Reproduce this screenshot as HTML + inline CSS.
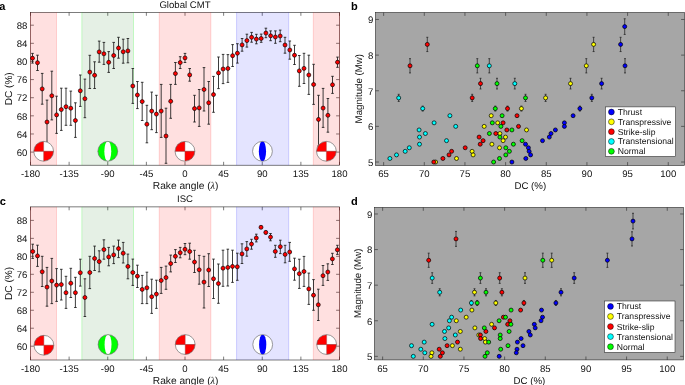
<!DOCTYPE html><html><head><meta charset="utf-8"><style>html,body{margin:0;padding:0;background:#fff;}svg{display:block;font-family:"Liberation Sans", sans-serif;} text{text-rendering:geometricPrecision;}</style></head><body>
<div style="will-change:transform;width:685px;height:385px">
<svg width="685" height="385" viewBox="0 0 685 385">
<rect width="685" height="385" fill="#fff"/>
<defs><clipPath id="bbclip"><circle r="9.9"/></clipPath></defs>
<text x="27.3" y="155.8" text-anchor="end" font-size="9.6" fill="#111111">60</text>
<text x="27.3" y="137.67" text-anchor="end" font-size="9.6" fill="#111111">64</text>
<text x="27.3" y="119.54" text-anchor="end" font-size="9.6" fill="#111111">68</text>
<text x="27.3" y="101.41" text-anchor="end" font-size="9.6" fill="#111111">72</text>
<text x="27.3" y="83.29" text-anchor="end" font-size="9.6" fill="#111111">76</text>
<text x="27.3" y="65.16" text-anchor="end" font-size="9.6" fill="#111111">80</text>
<text x="27.3" y="47.03" text-anchor="end" font-size="9.6" fill="#111111">84</text>
<text x="27.3" y="28.9" text-anchor="end" font-size="9.6" fill="#111111">88</text>
<text x="30.5" y="177" text-anchor="middle" font-size="9.6" fill="#111111">-180</text>
<text x="69.12" y="177" text-anchor="middle" font-size="9.6" fill="#111111">-135</text>
<text x="107.75" y="177" text-anchor="middle" font-size="9.6" fill="#111111">-90</text>
<text x="146.38" y="177" text-anchor="middle" font-size="9.6" fill="#111111">-45</text>
<text x="185" y="177" text-anchor="middle" font-size="9.6" fill="#111111">0</text>
<text x="223.62" y="177" text-anchor="middle" font-size="9.6" fill="#111111">45</text>
<text x="262.25" y="177" text-anchor="middle" font-size="9.6" fill="#111111">90</text>
<text x="300.88" y="177" text-anchor="middle" font-size="9.6" fill="#111111">135</text>
<text x="339.5" y="177" text-anchor="middle" font-size="9.6" fill="#111111">180</text>
<path d="M30.5 152.1h3.4M339.5 152.1h-3.4M30.5 133.97h3.4M339.5 133.97h-3.4M30.5 115.84h3.4M339.5 115.84h-3.4M30.5 97.71h3.4M339.5 97.71h-3.4M30.5 79.59h3.4M339.5 79.59h-3.4M30.5 61.46h3.4M339.5 61.46h-3.4M30.5 43.33h3.4M339.5 43.33h-3.4M30.5 25.2h3.4M339.5 25.2h-3.4M30.5 165.2v-3.4M30.5 12.4v3.4M69.12 165.2v-3.4M69.12 12.4v3.4M107.75 165.2v-3.4M107.75 12.4v3.4M146.38 165.2v-3.4M146.38 12.4v3.4M185 165.2v-3.4M185 12.4v3.4M223.62 165.2v-3.4M223.62 12.4v3.4M262.25 165.2v-3.4M262.25 12.4v3.4M300.88 165.2v-3.4M300.88 12.4v3.4M339.5 165.2v-3.4M339.5 12.4v3.4" stroke="#262626" stroke-width="0.6" fill="none"/>
<rect x="30.5" y="12.4" width="309" height="152.8" fill="none" stroke="#262626" stroke-width="0.6"/>
<rect x="30.5" y="12.4" width="26.01" height="152.8" fill="rgba(255,0,0,0.12)"/>
<rect x="81.83" y="12.4" width="51.67" height="152.8" fill="rgba(0,110,0,0.1)"/>
<rect x="159.25" y="12.4" width="51.59" height="152.8" fill="rgba(255,0,0,0.12)"/>
<rect x="236.59" y="12.4" width="52.1" height="152.8" fill="rgba(0,0,255,0.106)"/>
<rect x="313.32" y="12.4" width="26.18" height="152.8" fill="rgba(255,0,0,0.12)"/>
<line x1="30.5" y1="12.4" x2="30.5" y2="165.2" stroke="rgba(255,0,0,0.15)" stroke-width="1"/>
<line x1="56.51" y1="12.4" x2="56.51" y2="165.2" stroke="rgba(255,0,0,0.15)" stroke-width="1"/>
<line x1="81.83" y1="12.4" x2="81.83" y2="165.2" stroke="rgba(0,255,0,0.2)" stroke-width="1"/>
<line x1="133.5" y1="12.4" x2="133.5" y2="165.2" stroke="rgba(0,255,0,0.2)" stroke-width="1"/>
<line x1="159.25" y1="12.4" x2="159.25" y2="165.2" stroke="rgba(255,0,0,0.15)" stroke-width="1"/>
<line x1="210.84" y1="12.4" x2="210.84" y2="165.2" stroke="rgba(255,0,0,0.15)" stroke-width="1"/>
<line x1="236.59" y1="12.4" x2="236.59" y2="165.2" stroke="rgba(0,0,255,0.17)" stroke-width="1"/>
<line x1="288.69" y1="12.4" x2="288.69" y2="165.2" stroke="rgba(0,0,255,0.17)" stroke-width="1"/>
<line x1="313.32" y1="12.4" x2="313.32" y2="165.2" stroke="rgba(255,0,0,0.15)" stroke-width="1"/>
<line x1="339.5" y1="12.4" x2="339.5" y2="165.2" stroke="rgba(255,0,0,0.15)" stroke-width="1"/>
<path d="M32.5 53.4V63.1M31.2 53.4H33.8M31.2 63.1H33.8" stroke="#1a1a1a" stroke-width="0.85" fill="none"/>
<path d="M37.5 55.2V70.5M36.2 55.2H38.8M36.2 70.5H38.8" stroke="#1a1a1a" stroke-width="0.85" fill="none"/>
<path d="M42.2 73.4V104.2M40.9 73.4H43.5M40.9 104.2H43.5" stroke="#1a1a1a" stroke-width="0.85" fill="none"/>
<path d="M47 100.1V146M45.7 100.1H48.3M45.7 146H48.3" stroke="#1a1a1a" stroke-width="0.85" fill="none"/>
<path d="M51.8 71.2V119.9M50.5 71.2H53.1M50.5 119.9H53.1" stroke="#1a1a1a" stroke-width="0.85" fill="none"/>
<path d="M56.6 96.2V133.4M55.3 96.2H57.9M55.3 133.4H57.9" stroke="#1a1a1a" stroke-width="0.85" fill="none"/>
<path d="M61.3 88.2V130.4M60 88.2H62.6M60 130.4H62.6" stroke="#1a1a1a" stroke-width="0.85" fill="none"/>
<path d="M66 88.2V125.3M64.7 88.2H67.3M64.7 125.3H67.3" stroke="#1a1a1a" stroke-width="0.85" fill="none"/>
<path d="M70.8 91.1V125.3M69.5 91.1H72.1M69.5 125.3H72.1" stroke="#1a1a1a" stroke-width="0.85" fill="none"/>
<path d="M75.4 102.8V137.4M74.1 102.8H76.7M74.1 137.4H76.7" stroke="#1a1a1a" stroke-width="0.85" fill="none"/>
<path d="M80.3 75V106.4M79 75H81.6M79 106.4H81.6" stroke="#1a1a1a" stroke-width="0.85" fill="none"/>
<path d="M84.9 79.1V117.7M83.6 79.1H86.2M83.6 117.7H86.2" stroke="#1a1a1a" stroke-width="0.85" fill="none"/>
<path d="M89.8 55.3V88.5M88.5 55.3H91.1M88.5 88.5H91.1" stroke="#1a1a1a" stroke-width="0.85" fill="none"/>
<path d="M94.6 61.8V88.5M93.3 61.8H95.9M93.3 88.5H95.9" stroke="#1a1a1a" stroke-width="0.85" fill="none"/>
<path d="M99.2 41.1V62.2M97.9 41.1H100.5M97.9 62.2H100.5" stroke="#1a1a1a" stroke-width="0.85" fill="none"/>
<path d="M103.9 42.4V64.4M102.6 42.4H105.2M102.6 64.4H105.2" stroke="#1a1a1a" stroke-width="0.85" fill="none"/>
<path d="M108.7 51.6V72.4M107.4 51.6H110M107.4 72.4H110" stroke="#1a1a1a" stroke-width="0.85" fill="none"/>
<path d="M113.7 42.4V68.5M112.4 42.4H115M112.4 68.5H115" stroke="#1a1a1a" stroke-width="0.85" fill="none"/>
<path d="M118.5 37.3V58.2M117.2 37.3H119.8M117.2 58.2H119.8" stroke="#1a1a1a" stroke-width="0.85" fill="none"/>
<path d="M123.2 39.2V63.2M121.9 39.2H124.5M121.9 63.2H124.5" stroke="#1a1a1a" stroke-width="0.85" fill="none"/>
<path d="M127.9 38.5V62.8M126.6 38.5H129.2M126.6 62.8H129.2" stroke="#1a1a1a" stroke-width="0.85" fill="none"/>
<path d="M132.8 68.5V103.4M131.5 68.5H134.1M131.5 103.4H134.1" stroke="#1a1a1a" stroke-width="0.85" fill="none"/>
<path d="M137.4 81.5V108.6M136.1 81.5H138.7M136.1 108.6H138.7" stroke="#1a1a1a" stroke-width="0.85" fill="none"/>
<path d="M142.2 82.3V120.5M140.9 82.3H143.5M140.9 120.5H143.5" stroke="#1a1a1a" stroke-width="0.85" fill="none"/>
<path d="M146.9 105.3V142.8M145.6 105.3H148.2M145.6 142.8H148.2" stroke="#1a1a1a" stroke-width="0.85" fill="none"/>
<path d="M151.7 92.1V129.7M150.4 92.1H153M150.4 129.7H153" stroke="#1a1a1a" stroke-width="0.85" fill="none"/>
<path d="M156.4 95.3V132.6M155.1 95.3H157.7M155.1 132.6H157.7" stroke="#1a1a1a" stroke-width="0.85" fill="none"/>
<path d="M161.2 84.4V137.4M159.9 84.4H162.5M159.9 137.4H162.5" stroke="#1a1a1a" stroke-width="0.85" fill="none"/>
<path d="M166 108.2V163.3M164.7 108.2H167.3M164.7 163.3H167.3" stroke="#1a1a1a" stroke-width="0.85" fill="none"/>
<path d="M170.7 84.4V118.3M169.4 84.4H172M169.4 118.3H172" stroke="#1a1a1a" stroke-width="0.85" fill="none"/>
<path d="M175.4 62.5V84.4M174.1 62.5H176.7M174.1 84.4H176.7" stroke="#1a1a1a" stroke-width="0.85" fill="none"/>
<path d="M180.2 56.7V68.5M178.9 56.7H181.5M178.9 68.5H181.5" stroke="#1a1a1a" stroke-width="0.85" fill="none"/>
<path d="M185 53.4V62.5M183.7 53.4H186.3M183.7 62.5H186.3" stroke="#1a1a1a" stroke-width="0.85" fill="none"/>
<path d="M189.7 68.5V81.2M188.4 68.5H191M188.4 81.2H191" stroke="#1a1a1a" stroke-width="0.85" fill="none"/>
<path d="M194.5 95.3V122M193.2 95.3H195.8M193.2 122H195.8" stroke="#1a1a1a" stroke-width="0.85" fill="none"/>
<path d="M199.2 89.5V126.4M197.9 89.5H200.5M197.9 126.4H200.5" stroke="#1a1a1a" stroke-width="0.85" fill="none"/>
<path d="M204 67.6V111M202.7 67.6H205.3M202.7 111H205.3" stroke="#1a1a1a" stroke-width="0.85" fill="none"/>
<path d="M208.7 81.5V124.2M207.4 81.5H210M207.4 124.2H210" stroke="#1a1a1a" stroke-width="0.85" fill="none"/>
<path d="M213.5 76.4V112.3M212.2 76.4H214.8M212.2 112.3H214.8" stroke="#1a1a1a" stroke-width="0.85" fill="none"/>
<path d="M218.5 57V88.6M217.2 57H219.8M217.2 88.6H219.8" stroke="#1a1a1a" stroke-width="0.85" fill="none"/>
<path d="M223.1 54.4V83.6M221.8 54.4H224.4M221.8 83.6H224.4" stroke="#1a1a1a" stroke-width="0.85" fill="none"/>
<path d="M227.9 54.6V82.4M226.6 54.6H229.2M226.6 82.4H229.2" stroke="#1a1a1a" stroke-width="0.85" fill="none"/>
<path d="M232.6 44.6V66.5M231.3 44.6H233.9M231.3 66.5H233.9" stroke="#1a1a1a" stroke-width="0.85" fill="none"/>
<path d="M237.4 43.7V63.1M236.1 43.7H238.7M236.1 63.1H238.7" stroke="#1a1a1a" stroke-width="0.85" fill="none"/>
<path d="M242.1 38.5V51.2M240.8 38.5H243.4M240.8 51.2H243.4" stroke="#1a1a1a" stroke-width="0.85" fill="none"/>
<path d="M246.9 34.2V47.1M245.6 34.2H248.2M245.6 47.1H248.2" stroke="#1a1a1a" stroke-width="0.85" fill="none"/>
<path d="M251.6 32.4V42.2M250.3 32.4H252.9M250.3 42.2H252.9" stroke="#1a1a1a" stroke-width="0.85" fill="none"/>
<path d="M256.4 34.3V43.8M255.1 34.3H257.7M255.1 43.8H257.7" stroke="#1a1a1a" stroke-width="0.85" fill="none"/>
<path d="M261.2 34.1V42.3M259.9 34.1H262.5M259.9 42.3H262.5" stroke="#1a1a1a" stroke-width="0.85" fill="none"/>
<path d="M265.9 28.2V37.7M264.6 28.2H267.2M264.6 37.7H267.2" stroke="#1a1a1a" stroke-width="0.85" fill="none"/>
<path d="M270.6 30.9V40.7M269.3 30.9H271.9M269.3 40.7H271.9" stroke="#1a1a1a" stroke-width="0.85" fill="none"/>
<path d="M275.4 30.9V43.3M274.1 30.9H276.7M274.1 43.3H276.7" stroke="#1a1a1a" stroke-width="0.85" fill="none"/>
<path d="M280.2 30.1V41.7M278.9 30.1H281.5M278.9 41.7H281.5" stroke="#1a1a1a" stroke-width="0.85" fill="none"/>
<path d="M285 37.3V53.2M283.7 37.3H286.3M283.7 53.2H286.3" stroke="#1a1a1a" stroke-width="0.85" fill="none"/>
<path d="M289.8 41V59.2M288.5 41H291.1M288.5 59.2H291.1" stroke="#1a1a1a" stroke-width="0.85" fill="none"/>
<path d="M294.5 45.3V64.5M293.2 45.3H295.8M293.2 64.5H295.8" stroke="#1a1a1a" stroke-width="0.85" fill="none"/>
<path d="M299.3 55.5V86.3M298 55.5H300.6M298 86.3H300.6" stroke="#1a1a1a" stroke-width="0.85" fill="none"/>
<path d="M304 53.3V83.5M302.7 53.3H305.3M302.7 83.5H305.3" stroke="#1a1a1a" stroke-width="0.85" fill="none"/>
<path d="M308.8 55.2V94.4M307.5 55.2H310.1M307.5 94.4H310.1" stroke="#1a1a1a" stroke-width="0.85" fill="none"/>
<path d="M313.6 64.3V104.4M312.3 64.3H314.9M312.3 104.4H314.9" stroke="#1a1a1a" stroke-width="0.85" fill="none"/>
<path d="M318.5 95.3V146M317.2 95.3H319.8M317.2 146H319.8" stroke="#1a1a1a" stroke-width="0.85" fill="none"/>
<path d="M323.1 88.4V127.4M321.8 88.4H324.4M321.8 127.4H324.4" stroke="#1a1a1a" stroke-width="0.85" fill="none"/>
<path d="M327.9 98.5V132.2M326.6 98.5H329.2M326.6 132.2H329.2" stroke="#1a1a1a" stroke-width="0.85" fill="none"/>
<path d="M332.5 76.3V93.4M331.2 76.3H333.8M331.2 93.4H333.8" stroke="#1a1a1a" stroke-width="0.85" fill="none"/>
<path d="M337.5 57.1V67.3M336.2 57.1H338.8M336.2 67.3H338.8" stroke="#1a1a1a" stroke-width="0.85" fill="none"/>
<circle cx="32.5" cy="58.2" r="2" fill="#ff0000" stroke="#000" stroke-width="0.65"/>
<circle cx="37.5" cy="62.7" r="2" fill="#ff0000" stroke="#000" stroke-width="0.65"/>
<circle cx="42.2" cy="88.9" r="2" fill="#ff0000" stroke="#000" stroke-width="0.65"/>
<circle cx="47" cy="122" r="2" fill="#ff0000" stroke="#000" stroke-width="0.65"/>
<circle cx="51.8" cy="95.8" r="2" fill="#ff0000" stroke="#000" stroke-width="0.65"/>
<circle cx="56.6" cy="114.9" r="2" fill="#ff0000" stroke="#000" stroke-width="0.65"/>
<circle cx="61.3" cy="109.6" r="2" fill="#ff0000" stroke="#000" stroke-width="0.65"/>
<circle cx="66" cy="106.7" r="2" fill="#ff0000" stroke="#000" stroke-width="0.65"/>
<circle cx="70.8" cy="108.2" r="2" fill="#ff0000" stroke="#000" stroke-width="0.65"/>
<circle cx="75.4" cy="120.5" r="2" fill="#ff0000" stroke="#000" stroke-width="0.65"/>
<circle cx="80.3" cy="90.8" r="2" fill="#ff0000" stroke="#000" stroke-width="0.65"/>
<circle cx="84.9" cy="98.7" r="2" fill="#ff0000" stroke="#000" stroke-width="0.65"/>
<circle cx="89.8" cy="72.1" r="2" fill="#ff0000" stroke="#000" stroke-width="0.65"/>
<circle cx="94.6" cy="75.3" r="2" fill="#ff0000" stroke="#000" stroke-width="0.65"/>
<circle cx="99.2" cy="51.9" r="2" fill="#ff0000" stroke="#000" stroke-width="0.65"/>
<circle cx="103.9" cy="53.8" r="2" fill="#ff0000" stroke="#000" stroke-width="0.65"/>
<circle cx="108.7" cy="62.3" r="2" fill="#ff0000" stroke="#000" stroke-width="0.65"/>
<circle cx="113.7" cy="55.5" r="2" fill="#ff0000" stroke="#000" stroke-width="0.65"/>
<circle cx="118.5" cy="48" r="2" fill="#ff0000" stroke="#000" stroke-width="0.65"/>
<circle cx="123.2" cy="51.8" r="2" fill="#ff0000" stroke="#000" stroke-width="0.65"/>
<circle cx="127.9" cy="50.9" r="2" fill="#ff0000" stroke="#000" stroke-width="0.65"/>
<circle cx="132.8" cy="86" r="2" fill="#ff0000" stroke="#000" stroke-width="0.65"/>
<circle cx="137.4" cy="95" r="2" fill="#ff0000" stroke="#000" stroke-width="0.65"/>
<circle cx="142.2" cy="101.6" r="2" fill="#ff0000" stroke="#000" stroke-width="0.65"/>
<circle cx="146.9" cy="124.2" r="2" fill="#ff0000" stroke="#000" stroke-width="0.65"/>
<circle cx="151.7" cy="111.1" r="2" fill="#ff0000" stroke="#000" stroke-width="0.65"/>
<circle cx="156.4" cy="114.1" r="2" fill="#ff0000" stroke="#000" stroke-width="0.65"/>
<circle cx="161.2" cy="111.1" r="2" fill="#ff0000" stroke="#000" stroke-width="0.65"/>
<circle cx="166" cy="136" r="2" fill="#ff0000" stroke="#000" stroke-width="0.65"/>
<circle cx="170.7" cy="101.3" r="2" fill="#ff0000" stroke="#000" stroke-width="0.65"/>
<circle cx="175.4" cy="73.6" r="2" fill="#ff0000" stroke="#000" stroke-width="0.65"/>
<circle cx="180.2" cy="62.6" r="2" fill="#ff0000" stroke="#000" stroke-width="0.65"/>
<circle cx="185" cy="57.9" r="2" fill="#ff0000" stroke="#000" stroke-width="0.65"/>
<circle cx="189.7" cy="74.9" r="2" fill="#ff0000" stroke="#000" stroke-width="0.65"/>
<circle cx="194.5" cy="108.6" r="2" fill="#ff0000" stroke="#000" stroke-width="0.65"/>
<circle cx="199.2" cy="107.9" r="2" fill="#ff0000" stroke="#000" stroke-width="0.65"/>
<circle cx="204" cy="89.5" r="2" fill="#ff0000" stroke="#000" stroke-width="0.65"/>
<circle cx="208.7" cy="102.8" r="2" fill="#ff0000" stroke="#000" stroke-width="0.65"/>
<circle cx="213.5" cy="94.6" r="2" fill="#ff0000" stroke="#000" stroke-width="0.65"/>
<circle cx="218.5" cy="72.9" r="2" fill="#ff0000" stroke="#000" stroke-width="0.65"/>
<circle cx="223.1" cy="69" r="2" fill="#ff0000" stroke="#000" stroke-width="0.65"/>
<circle cx="227.9" cy="68.5" r="2" fill="#ff0000" stroke="#000" stroke-width="0.65"/>
<circle cx="232.6" cy="55.7" r="2" fill="#ff0000" stroke="#000" stroke-width="0.65"/>
<circle cx="237.4" cy="53.2" r="2" fill="#ff0000" stroke="#000" stroke-width="0.65"/>
<circle cx="242.1" cy="44.9" r="2" fill="#ff0000" stroke="#000" stroke-width="0.65"/>
<circle cx="246.9" cy="40.6" r="2" fill="#ff0000" stroke="#000" stroke-width="0.65"/>
<circle cx="251.6" cy="37.3" r="2" fill="#ff0000" stroke="#000" stroke-width="0.65"/>
<circle cx="256.4" cy="39.1" r="2" fill="#ff0000" stroke="#000" stroke-width="0.65"/>
<circle cx="261.2" cy="38.5" r="2" fill="#ff0000" stroke="#000" stroke-width="0.65"/>
<circle cx="265.9" cy="33.1" r="2" fill="#ff0000" stroke="#000" stroke-width="0.65"/>
<circle cx="270.6" cy="35.8" r="2" fill="#ff0000" stroke="#000" stroke-width="0.65"/>
<circle cx="275.4" cy="37" r="2" fill="#ff0000" stroke="#000" stroke-width="0.65"/>
<circle cx="280.2" cy="36" r="2" fill="#ff0000" stroke="#000" stroke-width="0.65"/>
<circle cx="285" cy="45" r="2" fill="#ff0000" stroke="#000" stroke-width="0.65"/>
<circle cx="289.8" cy="50" r="2" fill="#ff0000" stroke="#000" stroke-width="0.65"/>
<circle cx="294.5" cy="55.2" r="2" fill="#ff0000" stroke="#000" stroke-width="0.65"/>
<circle cx="299.3" cy="70.9" r="2" fill="#ff0000" stroke="#000" stroke-width="0.65"/>
<circle cx="304" cy="68.4" r="2" fill="#ff0000" stroke="#000" stroke-width="0.65"/>
<circle cx="308.8" cy="75" r="2" fill="#ff0000" stroke="#000" stroke-width="0.65"/>
<circle cx="313.6" cy="84.5" r="2" fill="#ff0000" stroke="#000" stroke-width="0.65"/>
<circle cx="318.5" cy="119.4" r="2" fill="#ff0000" stroke="#000" stroke-width="0.65"/>
<circle cx="323.1" cy="108.1" r="2" fill="#ff0000" stroke="#000" stroke-width="0.65"/>
<circle cx="327.9" cy="115.3" r="2" fill="#ff0000" stroke="#000" stroke-width="0.65"/>
<circle cx="332.5" cy="84.8" r="2" fill="#ff0000" stroke="#000" stroke-width="0.65"/>
<circle cx="337.5" cy="62.2" r="2" fill="#ff0000" stroke="#000" stroke-width="0.65"/>
<g transform="translate(43.65 151.3)">
<circle r="9.9" fill="#fff"/>
<path d="M0 0H-9.9A9.9 9.9 0 0 1 0 -9.9Z" fill="#ff0000"/>
<path d="M0 0H9.9A9.9 9.9 0 0 1 0 9.9Z" fill="#ff0000"/>
<path d="M-9.9 0H9.9" stroke="#9a2020" stroke-width="0.6"/>
<path d="M0 -9.9V9.9" stroke="#a05050" stroke-width="0.45"/>
<circle r="9.9" fill="none" stroke="#666" stroke-width="0.65"/>
</g>
<g transform="translate(107.8 151.3)">
<circle r="9.9" fill="#00ff00"/>
<ellipse rx="3.45" ry="10.3" fill="#fff" clip-path="url(#bbclip)"/>
<circle r="9.9" fill="none" stroke="#666" stroke-width="0.65"/>
</g>
<g transform="translate(184.95 151.3)">
<circle r="9.9" fill="#fff"/>
<path d="M0 0H-9.9A9.9 9.9 0 0 1 0 -9.9Z" fill="#ff0000"/>
<path d="M0 0H9.9A9.9 9.9 0 0 1 0 9.9Z" fill="#ff0000"/>
<path d="M-9.9 0H9.9" stroke="#9a2020" stroke-width="0.6"/>
<path d="M0 -9.9V9.9" stroke="#a05050" stroke-width="0.45"/>
<circle r="9.9" fill="none" stroke="#666" stroke-width="0.65"/>
</g>
<g transform="translate(262.45 151.3)">
<circle r="9.9" fill="#fff"/>
<ellipse rx="3.6" ry="10.4" fill="#0000ff" clip-path="url(#bbclip)"/>
<circle r="9.9" fill="none" stroke="#666" stroke-width="0.65"/>
</g>
<g transform="translate(326.4 151.3)">
<circle r="9.9" fill="#fff"/>
<path d="M0 0H-9.9A9.9 9.9 0 0 1 0 -9.9Z" fill="#ff0000"/>
<path d="M0 0H9.9A9.9 9.9 0 0 1 0 9.9Z" fill="#ff0000"/>
<path d="M-9.9 0H9.9" stroke="#9a2020" stroke-width="0.6"/>
<path d="M0 -9.9V9.9" stroke="#a05050" stroke-width="0.45"/>
<circle r="9.9" fill="none" stroke="#666" stroke-width="0.65"/>
</g>
<text x="185.6" y="189.2" text-anchor="middle" font-size="10.2" fill="#111111">Rake angle (<tspan font-family="Liberation Serif" font-style="italic">&#955;</tspan>)</text>
<text x="185" y="7.6" text-anchor="middle" font-size="9.6" fill="#111111">Global CMT</text>
<text transform="translate(11.9 88.8) rotate(-90)" text-anchor="middle" font-size="10.1" fill="#111111">DC (%)</text>
<text x="27.3" y="349.9" text-anchor="end" font-size="9.6" fill="#111111">60</text>
<text x="27.3" y="331.93" text-anchor="end" font-size="9.6" fill="#111111">64</text>
<text x="27.3" y="313.96" text-anchor="end" font-size="9.6" fill="#111111">68</text>
<text x="27.3" y="295.99" text-anchor="end" font-size="9.6" fill="#111111">72</text>
<text x="27.3" y="278.01" text-anchor="end" font-size="9.6" fill="#111111">76</text>
<text x="27.3" y="260.04" text-anchor="end" font-size="9.6" fill="#111111">80</text>
<text x="27.3" y="242.07" text-anchor="end" font-size="9.6" fill="#111111">84</text>
<text x="27.3" y="224.1" text-anchor="end" font-size="9.6" fill="#111111">88</text>
<text x="30.5" y="371.8" text-anchor="middle" font-size="9.6" fill="#111111">-180</text>
<text x="69.12" y="371.8" text-anchor="middle" font-size="9.6" fill="#111111">-135</text>
<text x="107.75" y="371.8" text-anchor="middle" font-size="9.6" fill="#111111">-90</text>
<text x="146.38" y="371.8" text-anchor="middle" font-size="9.6" fill="#111111">-45</text>
<text x="185" y="371.8" text-anchor="middle" font-size="9.6" fill="#111111">0</text>
<text x="223.62" y="371.8" text-anchor="middle" font-size="9.6" fill="#111111">45</text>
<text x="262.25" y="371.8" text-anchor="middle" font-size="9.6" fill="#111111">90</text>
<text x="300.88" y="371.8" text-anchor="middle" font-size="9.6" fill="#111111">135</text>
<text x="339.5" y="371.8" text-anchor="middle" font-size="9.6" fill="#111111">180</text>
<path d="M30.5 346.2h3.4M339.5 346.2h-3.4M30.5 328.23h3.4M339.5 328.23h-3.4M30.5 310.26h3.4M339.5 310.26h-3.4M30.5 292.29h3.4M339.5 292.29h-3.4M30.5 274.31h3.4M339.5 274.31h-3.4M30.5 256.34h3.4M339.5 256.34h-3.4M30.5 238.37h3.4M339.5 238.37h-3.4M30.5 220.4h3.4M339.5 220.4h-3.4M30.5 360v-3.4M30.5 206.9v3.4M69.12 360v-3.4M69.12 206.9v3.4M107.75 360v-3.4M107.75 206.9v3.4M146.38 360v-3.4M146.38 206.9v3.4M185 360v-3.4M185 206.9v3.4M223.62 360v-3.4M223.62 206.9v3.4M262.25 360v-3.4M262.25 206.9v3.4M300.88 360v-3.4M300.88 206.9v3.4M339.5 360v-3.4M339.5 206.9v3.4" stroke="#262626" stroke-width="0.6" fill="none"/>
<rect x="30.5" y="206.9" width="309" height="153.1" fill="none" stroke="#262626" stroke-width="0.6"/>
<rect x="30.5" y="206.9" width="26.01" height="153.1" fill="rgba(255,0,0,0.12)"/>
<rect x="81.83" y="206.9" width="51.67" height="153.1" fill="rgba(0,110,0,0.1)"/>
<rect x="159.25" y="206.9" width="51.59" height="153.1" fill="rgba(255,0,0,0.12)"/>
<rect x="236.59" y="206.9" width="52.1" height="153.1" fill="rgba(0,0,255,0.106)"/>
<rect x="313.32" y="206.9" width="26.18" height="153.1" fill="rgba(255,0,0,0.12)"/>
<line x1="30.5" y1="206.9" x2="30.5" y2="360" stroke="rgba(255,0,0,0.15)" stroke-width="1"/>
<line x1="56.51" y1="206.9" x2="56.51" y2="360" stroke="rgba(255,0,0,0.15)" stroke-width="1"/>
<line x1="81.83" y1="206.9" x2="81.83" y2="360" stroke="rgba(0,255,0,0.2)" stroke-width="1"/>
<line x1="133.5" y1="206.9" x2="133.5" y2="360" stroke="rgba(0,255,0,0.2)" stroke-width="1"/>
<line x1="159.25" y1="206.9" x2="159.25" y2="360" stroke="rgba(255,0,0,0.15)" stroke-width="1"/>
<line x1="210.84" y1="206.9" x2="210.84" y2="360" stroke="rgba(255,0,0,0.15)" stroke-width="1"/>
<line x1="236.59" y1="206.9" x2="236.59" y2="360" stroke="rgba(0,0,255,0.17)" stroke-width="1"/>
<line x1="288.69" y1="206.9" x2="288.69" y2="360" stroke="rgba(0,0,255,0.17)" stroke-width="1"/>
<line x1="313.32" y1="206.9" x2="313.32" y2="360" stroke="rgba(255,0,0,0.15)" stroke-width="1"/>
<line x1="339.5" y1="206.9" x2="339.5" y2="360" stroke="rgba(255,0,0,0.15)" stroke-width="1"/>
<path d="M32.7 244.2V258.4M31.4 244.2H34M31.4 258.4H34" stroke="#1a1a1a" stroke-width="0.85" fill="none"/>
<path d="M37.5 245.2V266.4M36.2 245.2H38.8M36.2 266.4H38.8" stroke="#1a1a1a" stroke-width="0.85" fill="none"/>
<path d="M42.2 256.3V286.5M40.9 256.3H43.5M40.9 286.5H43.5" stroke="#1a1a1a" stroke-width="0.85" fill="none"/>
<path d="M47 267.4V306.2M45.7 267.4H48.3M45.7 306.2H48.3" stroke="#1a1a1a" stroke-width="0.85" fill="none"/>
<path d="M51.8 258.4V303.6M50.5 258.4H53.1M50.5 303.6H53.1" stroke="#1a1a1a" stroke-width="0.85" fill="none"/>
<path d="M56.6 268.6V301.4M55.3 268.6H57.9M55.3 301.4H57.9" stroke="#1a1a1a" stroke-width="0.85" fill="none"/>
<path d="M61.3 269.3V300M60 269.3H62.6M60 300H62.6" stroke="#1a1a1a" stroke-width="0.85" fill="none"/>
<path d="M66 276.3V308.4M64.7 276.3H67.3M64.7 308.4H67.3" stroke="#1a1a1a" stroke-width="0.85" fill="none"/>
<path d="M70.8 268.3V297.5M69.5 268.3H72.1M69.5 297.5H72.1" stroke="#1a1a1a" stroke-width="0.85" fill="none"/>
<path d="M75.4 277.3V307.5M74.1 277.3H76.7M74.1 307.5H76.7" stroke="#1a1a1a" stroke-width="0.85" fill="none"/>
<path d="M80.3 259.2V286.1M79 259.2H81.6M79 286.1H81.6" stroke="#1a1a1a" stroke-width="0.85" fill="none"/>
<path d="M84.9 278.8V316.5M83.6 278.8H86.2M83.6 316.5H86.2" stroke="#1a1a1a" stroke-width="0.85" fill="none"/>
<path d="M89.8 256.3V288.6M88.5 256.3H91.1M88.5 288.6H91.1" stroke="#1a1a1a" stroke-width="0.85" fill="none"/>
<path d="M94.6 246.1V270.5M93.3 246.1H95.9M93.3 270.5H95.9" stroke="#1a1a1a" stroke-width="0.85" fill="none"/>
<path d="M99.2 250.8V271.8M97.9 250.8H100.5M97.9 271.8H100.5" stroke="#1a1a1a" stroke-width="0.85" fill="none"/>
<path d="M103.9 239.8V259.2M102.6 239.8H105.2M102.6 259.2H105.2" stroke="#1a1a1a" stroke-width="0.85" fill="none"/>
<path d="M108.7 247.4V265.8M107.4 247.4H110M107.4 265.8H110" stroke="#1a1a1a" stroke-width="0.85" fill="none"/>
<path d="M113.7 246.1V263.6M112.4 246.1H115M112.4 263.6H115" stroke="#1a1a1a" stroke-width="0.85" fill="none"/>
<path d="M118.5 240.1V257.6M117.2 240.1H119.8M117.2 257.6H119.8" stroke="#1a1a1a" stroke-width="0.85" fill="none"/>
<path d="M123.2 242.4V263M121.9 242.4H124.5M121.9 263H124.5" stroke="#1a1a1a" stroke-width="0.85" fill="none"/>
<path d="M127.9 254.1V278.8M126.6 254.1H129.2M126.6 278.8H129.2" stroke="#1a1a1a" stroke-width="0.85" fill="none"/>
<path d="M132.8 259.1V285.4M131.5 259.1H134.1M131.5 285.4H134.1" stroke="#1a1a1a" stroke-width="0.85" fill="none"/>
<path d="M137.4 265.2V287.5M136.1 265.2H138.7M136.1 287.5H138.7" stroke="#1a1a1a" stroke-width="0.85" fill="none"/>
<path d="M142.2 275.4V303.6M140.9 275.4H143.5M140.9 303.6H143.5" stroke="#1a1a1a" stroke-width="0.85" fill="none"/>
<path d="M146.9 272.2V303.6M145.6 272.2H148.2M145.6 303.6H148.2" stroke="#1a1a1a" stroke-width="0.85" fill="none"/>
<path d="M151.7 279.2V313.4M150.4 279.2H153M150.4 313.4H153" stroke="#1a1a1a" stroke-width="0.85" fill="none"/>
<path d="M156.4 280.2V308.4M155.1 280.2H157.7M155.1 308.4H157.7" stroke="#1a1a1a" stroke-width="0.85" fill="none"/>
<path d="M161.2 267.4V293.4M159.9 267.4H162.5M159.9 293.4H162.5" stroke="#1a1a1a" stroke-width="0.85" fill="none"/>
<path d="M166 266.1V289.3M164.7 266.1H167.3M164.7 289.3H167.3" stroke="#1a1a1a" stroke-width="0.85" fill="none"/>
<path d="M170.7 255.1V271.9M169.4 255.1H172M169.4 271.9H172" stroke="#1a1a1a" stroke-width="0.85" fill="none"/>
<path d="M175.4 249.6V262.5M174.1 249.6H176.7M174.1 262.5H176.7" stroke="#1a1a1a" stroke-width="0.85" fill="none"/>
<path d="M180.2 247.4V257.8M178.9 247.4H181.5M178.9 257.8H181.5" stroke="#1a1a1a" stroke-width="0.85" fill="none"/>
<path d="M185 243.5V254.7M183.7 243.5H186.3M183.7 254.7H186.3" stroke="#1a1a1a" stroke-width="0.85" fill="none"/>
<path d="M189.7 243.2V259.2M188.4 243.2H191M188.4 259.2H191" stroke="#1a1a1a" stroke-width="0.85" fill="none"/>
<path d="M194.5 250.3V272.5M193.2 250.3H195.8M193.2 272.5H195.8" stroke="#1a1a1a" stroke-width="0.85" fill="none"/>
<path d="M199.2 255.4V284.2M197.9 255.4H200.5M197.9 284.2H200.5" stroke="#1a1a1a" stroke-width="0.85" fill="none"/>
<path d="M204 256.3V308M202.7 256.3H205.3M202.7 308H205.3" stroke="#1a1a1a" stroke-width="0.85" fill="none"/>
<path d="M208.7 253.7V286.5M207.4 253.7H210M207.4 286.5H210" stroke="#1a1a1a" stroke-width="0.85" fill="none"/>
<path d="M213.5 259.1V298.5M212.2 259.1H214.8M212.2 298.5H214.8" stroke="#1a1a1a" stroke-width="0.85" fill="none"/>
<path d="M218.4 264V303.3M217.1 264H219.7M217.1 303.3H219.7" stroke="#1a1a1a" stroke-width="0.85" fill="none"/>
<path d="M223 250.2V286.3M221.7 250.2H224.3M221.7 286.3H224.3" stroke="#1a1a1a" stroke-width="0.85" fill="none"/>
<path d="M227.8 249.2V286M226.5 249.2H229.1M226.5 286H229.1" stroke="#1a1a1a" stroke-width="0.85" fill="none"/>
<path d="M232.5 250.2V282.4M231.2 250.2H233.8M231.2 282.4H233.8" stroke="#1a1a1a" stroke-width="0.85" fill="none"/>
<path d="M237.3 253.2V280.3M236 253.2H238.6M236 280.3H238.6" stroke="#1a1a1a" stroke-width="0.85" fill="none"/>
<path d="M242 243.8V263.5M240.7 243.8H243.3M240.7 263.5H243.3" stroke="#1a1a1a" stroke-width="0.85" fill="none"/>
<path d="M246.8 241.6V256.2M245.5 241.6H248.1M245.5 256.2H248.1" stroke="#1a1a1a" stroke-width="0.85" fill="none"/>
<path d="M251.5 239.3V249.2M250.2 239.3H252.8M250.2 249.2H252.8" stroke="#1a1a1a" stroke-width="0.85" fill="none"/>
<path d="M256.3 234.2V241.9M255 234.2H257.6M255 241.9H257.6" stroke="#1a1a1a" stroke-width="0.85" fill="none"/>
<path d="M261 226V228.6M259.7 226H262.3M259.7 228.6H262.3" stroke="#1a1a1a" stroke-width="0.85" fill="none"/>
<path d="M265.8 231V234M264.5 231H267.1M264.5 234H267.1" stroke="#1a1a1a" stroke-width="0.85" fill="none"/>
<path d="M270.5 233.5V240.8M269.2 233.5H271.8M269.2 240.8H271.8" stroke="#1a1a1a" stroke-width="0.85" fill="none"/>
<path d="M275.3 245.3V257.3M274 245.3H276.6M274 257.3H276.6" stroke="#1a1a1a" stroke-width="0.85" fill="none"/>
<path d="M280.3 240.2V253.6M279 240.2H281.6M279 253.6H281.6" stroke="#1a1a1a" stroke-width="0.85" fill="none"/>
<path d="M285.1 245.3V262.8M283.8 245.3H286.4M283.8 262.8H286.4" stroke="#1a1a1a" stroke-width="0.85" fill="none"/>
<path d="M289.7 242.4V261.3M288.4 242.4H291M288.4 261.3H291" stroke="#1a1a1a" stroke-width="0.85" fill="none"/>
<path d="M294.5 258.2V280.2M293.2 258.2H295.8M293.2 280.2H295.8" stroke="#1a1a1a" stroke-width="0.85" fill="none"/>
<path d="M299.3 259.2V288.4M298 259.2H300.6M298 288.4H300.6" stroke="#1a1a1a" stroke-width="0.85" fill="none"/>
<path d="M304 256.4V286.4M302.7 256.4H305.3M302.7 286.4H305.3" stroke="#1a1a1a" stroke-width="0.85" fill="none"/>
<path d="M308.8 273.1V304.4M307.5 273.1H310.1M307.5 304.4H310.1" stroke="#1a1a1a" stroke-width="0.85" fill="none"/>
<path d="M313.5 279.6V310.3M312.2 279.6H314.8M312.2 310.3H314.8" stroke="#1a1a1a" stroke-width="0.85" fill="none"/>
<path d="M318.3 289.2V320.5M317 289.2H319.6M317 320.5H319.6" stroke="#1a1a1a" stroke-width="0.85" fill="none"/>
<path d="M323 265.5V285.4M321.7 265.5H324.3M321.7 285.4H324.3" stroke="#1a1a1a" stroke-width="0.85" fill="none"/>
<path d="M327.8 263.8V280.4M326.5 263.8H329.1M326.5 280.4H329.1" stroke="#1a1a1a" stroke-width="0.85" fill="none"/>
<path d="M332.4 253.3V264.5M331.1 253.3H333.7M331.1 264.5H333.7" stroke="#1a1a1a" stroke-width="0.85" fill="none"/>
<path d="M337.4 245.3V254.4M336.1 245.3H338.7M336.1 254.4H338.7" stroke="#1a1a1a" stroke-width="0.85" fill="none"/>
<circle cx="32.7" cy="251.5" r="2" fill="#ff0000" stroke="#000" stroke-width="0.65"/>
<circle cx="37.5" cy="255.9" r="2" fill="#ff0000" stroke="#000" stroke-width="0.65"/>
<circle cx="42.2" cy="271.8" r="2" fill="#ff0000" stroke="#000" stroke-width="0.65"/>
<circle cx="47" cy="287.1" r="2" fill="#ff0000" stroke="#000" stroke-width="0.65"/>
<circle cx="51.8" cy="281" r="2" fill="#ff0000" stroke="#000" stroke-width="0.65"/>
<circle cx="56.6" cy="285.1" r="2" fill="#ff0000" stroke="#000" stroke-width="0.65"/>
<circle cx="61.3" cy="284.6" r="2" fill="#ff0000" stroke="#000" stroke-width="0.65"/>
<circle cx="66" cy="292.7" r="2" fill="#ff0000" stroke="#000" stroke-width="0.65"/>
<circle cx="70.8" cy="283.2" r="2" fill="#ff0000" stroke="#000" stroke-width="0.65"/>
<circle cx="75.4" cy="292.7" r="2" fill="#ff0000" stroke="#000" stroke-width="0.65"/>
<circle cx="80.3" cy="272.7" r="2" fill="#ff0000" stroke="#000" stroke-width="0.65"/>
<circle cx="84.9" cy="297.5" r="2" fill="#ff0000" stroke="#000" stroke-width="0.65"/>
<circle cx="89.8" cy="272.5" r="2" fill="#ff0000" stroke="#000" stroke-width="0.65"/>
<circle cx="94.6" cy="258.4" r="2" fill="#ff0000" stroke="#000" stroke-width="0.65"/>
<circle cx="99.2" cy="261.6" r="2" fill="#ff0000" stroke="#000" stroke-width="0.65"/>
<circle cx="103.9" cy="249.6" r="2" fill="#ff0000" stroke="#000" stroke-width="0.65"/>
<circle cx="108.7" cy="256.9" r="2" fill="#ff0000" stroke="#000" stroke-width="0.65"/>
<circle cx="113.7" cy="254.9" r="2" fill="#ff0000" stroke="#000" stroke-width="0.65"/>
<circle cx="118.5" cy="248.6" r="2" fill="#ff0000" stroke="#000" stroke-width="0.65"/>
<circle cx="123.2" cy="253.2" r="2" fill="#ff0000" stroke="#000" stroke-width="0.65"/>
<circle cx="127.9" cy="266.4" r="2" fill="#ff0000" stroke="#000" stroke-width="0.65"/>
<circle cx="132.8" cy="272.5" r="2" fill="#ff0000" stroke="#000" stroke-width="0.65"/>
<circle cx="137.4" cy="276.2" r="2" fill="#ff0000" stroke="#000" stroke-width="0.65"/>
<circle cx="142.2" cy="289.4" r="2" fill="#ff0000" stroke="#000" stroke-width="0.65"/>
<circle cx="146.9" cy="287.8" r="2" fill="#ff0000" stroke="#000" stroke-width="0.65"/>
<circle cx="151.7" cy="296.7" r="2" fill="#ff0000" stroke="#000" stroke-width="0.65"/>
<circle cx="156.4" cy="294.1" r="2" fill="#ff0000" stroke="#000" stroke-width="0.65"/>
<circle cx="161.2" cy="280.5" r="2" fill="#ff0000" stroke="#000" stroke-width="0.65"/>
<circle cx="166" cy="277.6" r="2" fill="#ff0000" stroke="#000" stroke-width="0.65"/>
<circle cx="170.7" cy="263.6" r="2" fill="#ff0000" stroke="#000" stroke-width="0.65"/>
<circle cx="175.4" cy="256.3" r="2" fill="#ff0000" stroke="#000" stroke-width="0.65"/>
<circle cx="180.2" cy="252.7" r="2" fill="#ff0000" stroke="#000" stroke-width="0.65"/>
<circle cx="185" cy="249.3" r="2" fill="#ff0000" stroke="#000" stroke-width="0.65"/>
<circle cx="189.7" cy="251.5" r="2" fill="#ff0000" stroke="#000" stroke-width="0.65"/>
<circle cx="194.5" cy="262" r="2" fill="#ff0000" stroke="#000" stroke-width="0.65"/>
<circle cx="199.2" cy="269.8" r="2" fill="#ff0000" stroke="#000" stroke-width="0.65"/>
<circle cx="204" cy="282.1" r="2" fill="#ff0000" stroke="#000" stroke-width="0.65"/>
<circle cx="208.7" cy="270" r="2" fill="#ff0000" stroke="#000" stroke-width="0.65"/>
<circle cx="213.5" cy="278.8" r="2" fill="#ff0000" stroke="#000" stroke-width="0.65"/>
<circle cx="218.4" cy="283.6" r="2" fill="#ff0000" stroke="#000" stroke-width="0.65"/>
<circle cx="223" cy="268.2" r="2" fill="#ff0000" stroke="#000" stroke-width="0.65"/>
<circle cx="227.8" cy="267.4" r="2" fill="#ff0000" stroke="#000" stroke-width="0.65"/>
<circle cx="232.5" cy="266.4" r="2" fill="#ff0000" stroke="#000" stroke-width="0.65"/>
<circle cx="237.3" cy="266.8" r="2" fill="#ff0000" stroke="#000" stroke-width="0.65"/>
<circle cx="242" cy="253.9" r="2" fill="#ff0000" stroke="#000" stroke-width="0.65"/>
<circle cx="246.8" cy="248.9" r="2" fill="#ff0000" stroke="#000" stroke-width="0.65"/>
<circle cx="251.5" cy="244.1" r="2" fill="#ff0000" stroke="#000" stroke-width="0.65"/>
<circle cx="256.3" cy="238" r="2" fill="#ff0000" stroke="#000" stroke-width="0.65"/>
<circle cx="261" cy="227.3" r="2" fill="#ff0000" stroke="#000" stroke-width="0.65"/>
<circle cx="265.8" cy="232.4" r="2" fill="#ff0000" stroke="#000" stroke-width="0.65"/>
<circle cx="270.5" cy="237.1" r="2" fill="#ff0000" stroke="#000" stroke-width="0.65"/>
<circle cx="275.3" cy="251.4" r="2" fill="#ff0000" stroke="#000" stroke-width="0.65"/>
<circle cx="280.3" cy="246.7" r="2" fill="#ff0000" stroke="#000" stroke-width="0.65"/>
<circle cx="285.1" cy="254.4" r="2" fill="#ff0000" stroke="#000" stroke-width="0.65"/>
<circle cx="289.7" cy="252" r="2" fill="#ff0000" stroke="#000" stroke-width="0.65"/>
<circle cx="294.5" cy="268.9" r="2" fill="#ff0000" stroke="#000" stroke-width="0.65"/>
<circle cx="299.3" cy="273.7" r="2" fill="#ff0000" stroke="#000" stroke-width="0.65"/>
<circle cx="304" cy="271.5" r="2" fill="#ff0000" stroke="#000" stroke-width="0.65"/>
<circle cx="308.8" cy="288.9" r="2" fill="#ff0000" stroke="#000" stroke-width="0.65"/>
<circle cx="313.5" cy="295.2" r="2" fill="#ff0000" stroke="#000" stroke-width="0.65"/>
<circle cx="318.3" cy="304.8" r="2" fill="#ff0000" stroke="#000" stroke-width="0.65"/>
<circle cx="323" cy="275.7" r="2" fill="#ff0000" stroke="#000" stroke-width="0.65"/>
<circle cx="327.8" cy="272" r="2" fill="#ff0000" stroke="#000" stroke-width="0.65"/>
<circle cx="332.4" cy="258.9" r="2" fill="#ff0000" stroke="#000" stroke-width="0.65"/>
<circle cx="337.4" cy="249.8" r="2" fill="#ff0000" stroke="#000" stroke-width="0.65"/>
<g transform="translate(43.9 345.25)">
<circle r="9.9" fill="#fff"/>
<path d="M0 0H-9.9A9.9 9.9 0 0 1 0 -9.9Z" fill="#ff0000"/>
<path d="M0 0H9.9A9.9 9.9 0 0 1 0 9.9Z" fill="#ff0000"/>
<path d="M-9.9 0H9.9" stroke="#9a2020" stroke-width="0.6"/>
<path d="M0 -9.9V9.9" stroke="#a05050" stroke-width="0.45"/>
<circle r="9.9" fill="none" stroke="#666" stroke-width="0.65"/>
</g>
<g transform="translate(108.05 344.55)">
<circle r="9.9" fill="#00ff00"/>
<ellipse rx="3.45" ry="10.3" fill="#fff" clip-path="url(#bbclip)"/>
<circle r="9.9" fill="none" stroke="#666" stroke-width="0.65"/>
</g>
<g transform="translate(185.2 344.55)">
<circle r="9.9" fill="#fff"/>
<path d="M0 0H-9.9A9.9 9.9 0 0 1 0 -9.9Z" fill="#ff0000"/>
<path d="M0 0H9.9A9.9 9.9 0 0 1 0 9.9Z" fill="#ff0000"/>
<path d="M-9.9 0H9.9" stroke="#9a2020" stroke-width="0.6"/>
<path d="M0 -9.9V9.9" stroke="#a05050" stroke-width="0.45"/>
<circle r="9.9" fill="none" stroke="#666" stroke-width="0.65"/>
</g>
<g transform="translate(262.7 344.55)">
<circle r="9.9" fill="#fff"/>
<ellipse rx="3.6" ry="10.4" fill="#0000ff" clip-path="url(#bbclip)"/>
<circle r="9.9" fill="none" stroke="#666" stroke-width="0.65"/>
</g>
<g transform="translate(326.65 344.55)">
<circle r="9.9" fill="#fff"/>
<path d="M0 0H-9.9A9.9 9.9 0 0 1 0 -9.9Z" fill="#ff0000"/>
<path d="M0 0H9.9A9.9 9.9 0 0 1 0 9.9Z" fill="#ff0000"/>
<path d="M-9.9 0H9.9" stroke="#9a2020" stroke-width="0.6"/>
<path d="M0 -9.9V9.9" stroke="#a05050" stroke-width="0.45"/>
<circle r="9.9" fill="none" stroke="#666" stroke-width="0.65"/>
</g>
<text x="185.6" y="384" text-anchor="middle" font-size="10.2" fill="#111111">Rake angle (<tspan font-family="Liberation Serif" font-style="italic">&#955;</tspan>)</text>
<text x="185" y="202.1" text-anchor="middle" font-size="9.6" fill="#111111">ISC</text>
<text transform="translate(11.9 283.45) rotate(-90)" text-anchor="middle" font-size="10.1" fill="#111111">DC (%)</text>
<rect x="375.5" y="12.5" width="309" height="153" fill="#a6a6a6"/>
<path d="M624.7 18.76V34.44M623.7 18.76H625.7M623.7 34.44H625.7" stroke="#1a1a1a" stroke-width="0.7" fill="none"/>
<path d="M620.6 37.29V51.55M619.6 37.29H621.6M619.6 51.55H621.6" stroke="#1a1a1a" stroke-width="0.7" fill="none"/>
<path d="M625 58.67V72.93M624 58.67H626M624 72.93H626" stroke="#1a1a1a" stroke-width="0.7" fill="none"/>
<path d="M601.6 78.28V88.97M600.6 78.28H602.6M600.6 88.97H602.6" stroke="#1a1a1a" stroke-width="0.7" fill="none"/>
<path d="M591.8 94.31V101.44M590.8 94.31H592.8M590.8 101.44H592.8" stroke="#1a1a1a" stroke-width="0.7" fill="none"/>
<path d="M579.9 106.08V111.06M578.9 106.08H580.9M578.9 111.06H580.9" stroke="#1a1a1a" stroke-width="0.7" fill="none"/>
<path d="M593.6 37.29V51.55M592.6 37.29H594.6M592.6 51.55H594.6" stroke="#1a1a1a" stroke-width="0.7" fill="none"/>
<path d="M586.3 58.67V72.93M585.3 58.67H587.3M585.3 72.93H587.3" stroke="#1a1a1a" stroke-width="0.7" fill="none"/>
<path d="M570.5 78.28V88.97M569.5 78.28H571.5M569.5 88.97H571.5" stroke="#1a1a1a" stroke-width="0.7" fill="none"/>
<path d="M545.6 94.31V101.44M544.6 94.31H546.6M544.6 101.44H546.6" stroke="#1a1a1a" stroke-width="0.7" fill="none"/>
<path d="M521.4 106.08V111.06M520.4 106.08H522.4M520.4 111.06H522.4" stroke="#1a1a1a" stroke-width="0.7" fill="none"/>
<path d="M427.3 37.29V51.55M426.3 37.29H428.3M426.3 51.55H428.3" stroke="#1a1a1a" stroke-width="0.7" fill="none"/>
<path d="M410 58.67V72.93M409 58.67H411M409 72.93H411" stroke="#1a1a1a" stroke-width="0.7" fill="none"/>
<path d="M480.5 78.28V88.97M479.5 78.28H481.5M479.5 88.97H481.5" stroke="#1a1a1a" stroke-width="0.7" fill="none"/>
<path d="M472.2 94.31V101.44M471.2 94.31H473.2M471.2 101.44H473.2" stroke="#1a1a1a" stroke-width="0.7" fill="none"/>
<path d="M507.5 106.08V111.06M506.5 106.08H508.5M506.5 111.06H508.5" stroke="#1a1a1a" stroke-width="0.7" fill="none"/>
<path d="M489.3 58.67V72.93M488.3 58.67H490.3M488.3 72.93H490.3" stroke="#1a1a1a" stroke-width="0.7" fill="none"/>
<path d="M514.8 78.28V88.97M513.8 78.28H515.8M513.8 88.97H515.8" stroke="#1a1a1a" stroke-width="0.7" fill="none"/>
<path d="M398.7 94.31V101.44M397.7 94.31H399.7M397.7 101.44H399.7" stroke="#1a1a1a" stroke-width="0.7" fill="none"/>
<path d="M422.7 106.08V111.06M421.7 106.08H423.7M421.7 111.06H423.7" stroke="#1a1a1a" stroke-width="0.7" fill="none"/>
<path d="M477.3 58.67V72.93M476.3 58.67H478.3M476.3 72.93H478.3" stroke="#1a1a1a" stroke-width="0.7" fill="none"/>
<path d="M497 78.28V88.97M496 78.28H498M496 88.97H498" stroke="#1a1a1a" stroke-width="0.7" fill="none"/>
<path d="M525.5 94.31V101.44M524.5 94.31H526.5M524.5 101.44H526.5" stroke="#1a1a1a" stroke-width="0.7" fill="none"/>
<path d="M495.3 106.08V111.06M494.3 106.08H496.3M494.3 111.06H496.3" stroke="#1a1a1a" stroke-width="0.7" fill="none"/>
<circle cx="624.7" cy="26.6" r="2" fill="#0000ff" stroke="#000" stroke-width="0.7"/>
<circle cx="620.6" cy="44.42" r="2" fill="#0000ff" stroke="#000" stroke-width="0.7"/>
<circle cx="625" cy="65.8" r="2" fill="#0000ff" stroke="#000" stroke-width="0.7"/>
<circle cx="601.6" cy="83.62" r="2" fill="#0000ff" stroke="#000" stroke-width="0.7"/>
<circle cx="591.8" cy="97.88" r="2" fill="#0000ff" stroke="#000" stroke-width="0.7"/>
<circle cx="579.9" cy="108.57" r="2" fill="#0000ff" stroke="#000" stroke-width="0.7"/>
<circle cx="573.1" cy="115.7" r="2" fill="#0000ff" stroke="#000" stroke-width="0.7"/>
<circle cx="564.4" cy="122.83" r="2" fill="#0000ff" stroke="#000" stroke-width="0.7"/>
<circle cx="564.4" cy="126.39" r="2" fill="#0000ff" stroke="#000" stroke-width="0.7"/>
<circle cx="555.4" cy="129.95" r="2" fill="#0000ff" stroke="#000" stroke-width="0.7"/>
<circle cx="551" cy="133.52" r="2" fill="#0000ff" stroke="#000" stroke-width="0.7"/>
<circle cx="549.3" cy="137.08" r="2" fill="#0000ff" stroke="#000" stroke-width="0.7"/>
<circle cx="542.5" cy="140.65" r="2" fill="#0000ff" stroke="#000" stroke-width="0.7"/>
<circle cx="525.5" cy="144.21" r="2" fill="#0000ff" stroke="#000" stroke-width="0.7"/>
<circle cx="528.4" cy="147.77" r="2" fill="#0000ff" stroke="#000" stroke-width="0.7"/>
<circle cx="529.1" cy="151.34" r="2" fill="#0000ff" stroke="#000" stroke-width="0.7"/>
<circle cx="530.6" cy="154.9" r="2" fill="#0000ff" stroke="#000" stroke-width="0.7"/>
<circle cx="525.8" cy="158.47" r="2" fill="#0000ff" stroke="#000" stroke-width="0.7"/>
<circle cx="511.9" cy="162.03" r="2" fill="#0000ff" stroke="#000" stroke-width="0.7"/>
<circle cx="593.6" cy="44.42" r="2" fill="#ffff00" stroke="#000" stroke-width="0.7"/>
<circle cx="586.3" cy="65.8" r="2" fill="#ffff00" stroke="#000" stroke-width="0.7"/>
<circle cx="570.5" cy="83.62" r="2" fill="#ffff00" stroke="#000" stroke-width="0.7"/>
<circle cx="545.6" cy="97.88" r="2" fill="#ffff00" stroke="#000" stroke-width="0.7"/>
<circle cx="521.4" cy="108.57" r="2" fill="#ffff00" stroke="#000" stroke-width="0.7"/>
<circle cx="491.2" cy="115.7" r="2" fill="#ffff00" stroke="#000" stroke-width="0.7"/>
<circle cx="497.7" cy="122.83" r="2" fill="#ffff00" stroke="#000" stroke-width="0.7"/>
<circle cx="484.2" cy="126.39" r="2" fill="#ffff00" stroke="#000" stroke-width="0.7"/>
<circle cx="526.5" cy="129.95" r="2" fill="#ffff00" stroke="#000" stroke-width="0.7"/>
<circle cx="499.9" cy="133.52" r="2" fill="#ffff00" stroke="#000" stroke-width="0.7"/>
<circle cx="505.5" cy="137.08" r="2" fill="#ffff00" stroke="#000" stroke-width="0.7"/>
<circle cx="503.1" cy="140.65" r="2" fill="#ffff00" stroke="#000" stroke-width="0.7"/>
<circle cx="491.9" cy="144.21" r="2" fill="#ffff00" stroke="#000" stroke-width="0.7"/>
<circle cx="499.5" cy="147.77" r="2" fill="#ffff00" stroke="#000" stroke-width="0.7"/>
<circle cx="472.1" cy="151.34" r="2" fill="#ffff00" stroke="#000" stroke-width="0.7"/>
<circle cx="473.1" cy="154.9" r="2" fill="#ffff00" stroke="#000" stroke-width="0.7"/>
<circle cx="456.5" cy="158.47" r="2" fill="#ffff00" stroke="#000" stroke-width="0.7"/>
<circle cx="435.6" cy="162.03" r="2" fill="#ffff00" stroke="#000" stroke-width="0.7"/>
<circle cx="427.3" cy="44.42" r="2" fill="#ff0000" stroke="#000" stroke-width="0.7"/>
<circle cx="410" cy="65.8" r="2" fill="#ff0000" stroke="#000" stroke-width="0.7"/>
<circle cx="480.5" cy="83.62" r="2" fill="#ff0000" stroke="#000" stroke-width="0.7"/>
<circle cx="472.2" cy="97.88" r="2" fill="#ff0000" stroke="#000" stroke-width="0.7"/>
<circle cx="507.5" cy="108.57" r="2" fill="#ff0000" stroke="#000" stroke-width="0.7"/>
<circle cx="517" cy="115.7" r="2" fill="#ff0000" stroke="#000" stroke-width="0.7"/>
<circle cx="503.1" cy="122.83" r="2" fill="#ff0000" stroke="#000" stroke-width="0.7"/>
<circle cx="518.5" cy="126.39" r="2" fill="#ff0000" stroke="#000" stroke-width="0.7"/>
<circle cx="506.8" cy="129.95" r="2" fill="#ff0000" stroke="#000" stroke-width="0.7"/>
<circle cx="495.8" cy="133.52" r="2" fill="#ff0000" stroke="#000" stroke-width="0.7"/>
<circle cx="479.1" cy="137.08" r="2" fill="#ff0000" stroke="#000" stroke-width="0.7"/>
<circle cx="483.1" cy="140.65" r="2" fill="#ff0000" stroke="#000" stroke-width="0.7"/>
<circle cx="480.2" cy="144.21" r="2" fill="#ff0000" stroke="#000" stroke-width="0.7"/>
<circle cx="465.2" cy="147.77" r="2" fill="#ff0000" stroke="#000" stroke-width="0.7"/>
<circle cx="451.6" cy="151.34" r="2" fill="#ff0000" stroke="#000" stroke-width="0.7"/>
<circle cx="449" cy="154.9" r="2" fill="#ff0000" stroke="#000" stroke-width="0.7"/>
<circle cx="442.9" cy="158.47" r="2" fill="#ff0000" stroke="#000" stroke-width="0.7"/>
<circle cx="433.8" cy="162.03" r="2" fill="#ff0000" stroke="#000" stroke-width="0.7"/>
<circle cx="489.3" cy="65.8" r="2" fill="#00ffff" stroke="#000" stroke-width="0.7"/>
<circle cx="514.8" cy="83.62" r="2" fill="#00ffff" stroke="#000" stroke-width="0.7"/>
<circle cx="398.7" cy="97.88" r="2" fill="#00ffff" stroke="#000" stroke-width="0.7"/>
<circle cx="422.7" cy="108.57" r="2" fill="#00ffff" stroke="#000" stroke-width="0.7"/>
<circle cx="449.9" cy="115.7" r="2" fill="#00ffff" stroke="#000" stroke-width="0.7"/>
<circle cx="434.1" cy="122.83" r="2" fill="#00ffff" stroke="#000" stroke-width="0.7"/>
<circle cx="455.7" cy="126.39" r="2" fill="#00ffff" stroke="#000" stroke-width="0.7"/>
<circle cx="419.1" cy="129.95" r="2" fill="#00ffff" stroke="#000" stroke-width="0.7"/>
<circle cx="425.4" cy="133.52" r="2" fill="#00ffff" stroke="#000" stroke-width="0.7"/>
<circle cx="419.5" cy="137.08" r="2" fill="#00ffff" stroke="#000" stroke-width="0.7"/>
<circle cx="446.5" cy="140.65" r="2" fill="#00ffff" stroke="#000" stroke-width="0.7"/>
<circle cx="419.5" cy="144.21" r="2" fill="#00ffff" stroke="#000" stroke-width="0.7"/>
<circle cx="409.3" cy="147.77" r="2" fill="#00ffff" stroke="#000" stroke-width="0.7"/>
<circle cx="405.2" cy="151.34" r="2" fill="#00ffff" stroke="#000" stroke-width="0.7"/>
<circle cx="396.5" cy="154.9" r="2" fill="#00ffff" stroke="#000" stroke-width="0.7"/>
<circle cx="389.9" cy="158.47" r="2" fill="#00ffff" stroke="#000" stroke-width="0.7"/>
<circle cx="477.3" cy="65.8" r="2" fill="#00ff00" stroke="#000" stroke-width="0.7"/>
<circle cx="497" cy="83.62" r="2" fill="#00ff00" stroke="#000" stroke-width="0.7"/>
<circle cx="525.5" cy="97.88" r="2" fill="#00ff00" stroke="#000" stroke-width="0.7"/>
<circle cx="495.3" cy="108.57" r="2" fill="#00ff00" stroke="#000" stroke-width="0.7"/>
<circle cx="502.1" cy="115.7" r="2" fill="#00ff00" stroke="#000" stroke-width="0.7"/>
<circle cx="492.3" cy="122.83" r="2" fill="#00ff00" stroke="#000" stroke-width="0.7"/>
<circle cx="500.9" cy="126.39" r="2" fill="#00ff00" stroke="#000" stroke-width="0.7"/>
<circle cx="511.9" cy="129.95" r="2" fill="#00ff00" stroke="#000" stroke-width="0.7"/>
<circle cx="489.4" cy="133.52" r="2" fill="#00ff00" stroke="#000" stroke-width="0.7"/>
<circle cx="499.9" cy="137.08" r="2" fill="#00ff00" stroke="#000" stroke-width="0.7"/>
<circle cx="522.1" cy="140.65" r="2" fill="#00ff00" stroke="#000" stroke-width="0.7"/>
<circle cx="513.4" cy="144.21" r="2" fill="#00ff00" stroke="#000" stroke-width="0.7"/>
<circle cx="505.8" cy="147.77" r="2" fill="#00ff00" stroke="#000" stroke-width="0.7"/>
<circle cx="509.4" cy="151.34" r="2" fill="#00ff00" stroke="#000" stroke-width="0.7"/>
<circle cx="505.8" cy="154.9" r="2" fill="#00ff00" stroke="#000" stroke-width="0.7"/>
<circle cx="499.5" cy="158.47" r="2" fill="#00ff00" stroke="#000" stroke-width="0.7"/>
<circle cx="493.6" cy="162.03" r="2" fill="#00ff00" stroke="#000" stroke-width="0.7"/>
<text x="383.63" y="177.3" text-anchor="middle" font-size="9.6" fill="#111111">65</text>
<text x="424.29" y="177.3" text-anchor="middle" font-size="9.6" fill="#111111">70</text>
<text x="464.95" y="177.3" text-anchor="middle" font-size="9.6" fill="#111111">75</text>
<text x="505.61" y="177.3" text-anchor="middle" font-size="9.6" fill="#111111">80</text>
<text x="546.27" y="177.3" text-anchor="middle" font-size="9.6" fill="#111111">85</text>
<text x="586.93" y="177.3" text-anchor="middle" font-size="9.6" fill="#111111">90</text>
<text x="627.59" y="177.3" text-anchor="middle" font-size="9.6" fill="#111111">95</text>
<text x="668.25" y="177.3" text-anchor="middle" font-size="9.6" fill="#111111">100</text>
<text x="373.3" y="165.93" text-anchor="end" font-size="9.6" fill="#111111">5</text>
<text x="373.3" y="130.29" text-anchor="end" font-size="9.6" fill="#111111">6</text>
<text x="373.3" y="94.65" text-anchor="end" font-size="9.6" fill="#111111">7</text>
<text x="373.3" y="59.01" text-anchor="end" font-size="9.6" fill="#111111">8</text>
<text x="373.3" y="23.37" text-anchor="end" font-size="9.6" fill="#111111">9</text>
<path d="M383.63 165.5v-3.4M383.63 12.5v3.4M424.29 165.5v-3.4M424.29 12.5v3.4M464.95 165.5v-3.4M464.95 12.5v3.4M505.61 165.5v-3.4M505.61 12.5v3.4M546.27 165.5v-3.4M546.27 12.5v3.4M586.93 165.5v-3.4M586.93 12.5v3.4M627.59 165.5v-3.4M627.59 12.5v3.4M668.25 165.5v-3.4M668.25 12.5v3.4M375.5 162.03h3.4M684.5 162.03h-3.4M375.5 126.39h3.4M684.5 126.39h-3.4M375.5 90.75h3.4M684.5 90.75h-3.4M375.5 55.11h3.4M684.5 55.11h-3.4M375.5 19.47h3.4M684.5 19.47h-3.4" stroke="#262626" stroke-width="0.6" fill="none"/>
<rect x="375.5" y="12.5" width="309" height="153" fill="none" stroke="#262626" stroke-width="0.6"/>
<text x="530.3" y="189.1" text-anchor="middle" font-size="9.7" fill="#111111">DC (%)</text>
<text transform="translate(361.7 88.7) rotate(-90)" text-anchor="middle" font-size="9.7" fill="#111111">Magnitude (Mw)</text>
<rect x="605.4" y="106.9" width="70.1" height="49.5" fill="#fff" stroke="#262626" stroke-width="0.55"/>
<circle cx="611.4" cy="112" r="2.9" fill="#0000ff" stroke="#000" stroke-width="0.5"/>
<text x="617.7" y="115" font-size="8.6" fill="#111111">Thrust</text>
<circle cx="611.4" cy="121.83" r="2.9" fill="#ffff00" stroke="#000" stroke-width="0.5"/>
<text x="617.7" y="124.83" font-size="8.6" fill="#111111">Transpressive</text>
<circle cx="611.4" cy="131.66" r="2.9" fill="#ff0000" stroke="#000" stroke-width="0.5"/>
<text x="617.7" y="134.66" font-size="8.6" fill="#111111">Strike-slip</text>
<circle cx="611.4" cy="141.49" r="2.9" fill="#00ffff" stroke="#000" stroke-width="0.5"/>
<text x="617.7" y="144.49" font-size="8.6" fill="#111111">Transtensional</text>
<circle cx="611.4" cy="151.32" r="2.9" fill="#00ff00" stroke="#000" stroke-width="0.5"/>
<text x="617.7" y="154.32" font-size="8.6" fill="#111111">Normal</text>
<rect x="374.5" y="207.4" width="309" height="152.5" fill="#a6a6a6"/>
<path d="M633 213.27V228.93M632 213.27H634M632 228.93H634" stroke="#1a1a1a" stroke-width="0.7" fill="none"/>
<path d="M632 231.78V246.01M631 231.78H633M631 246.01H633" stroke="#1a1a1a" stroke-width="0.7" fill="none"/>
<path d="M607.4 253.13V267.37M606.4 253.13H608.4M606.4 267.37H608.4" stroke="#1a1a1a" stroke-width="0.7" fill="none"/>
<path d="M574.2 272.71V283.39M573.2 272.71H575.2M573.2 283.39H575.2" stroke="#1a1a1a" stroke-width="0.7" fill="none"/>
<path d="M561 288.72V295.84M560 288.72H562M560 295.84H562" stroke="#1a1a1a" stroke-width="0.7" fill="none"/>
<path d="M555.9 300.47V305.45M554.9 300.47H556.9M554.9 305.45H556.9" stroke="#1a1a1a" stroke-width="0.7" fill="none"/>
<path d="M551.7 253.13V267.37M550.7 253.13H552.7M550.7 267.37H552.7" stroke="#1a1a1a" stroke-width="0.7" fill="none"/>
<path d="M525 272.71V283.39M524 272.71H526M524 283.39H526" stroke="#1a1a1a" stroke-width="0.7" fill="none"/>
<path d="M474.5 288.72V295.84M473.5 288.72H475.5M473.5 295.84H475.5" stroke="#1a1a1a" stroke-width="0.7" fill="none"/>
<path d="M495.8 300.47V305.45M494.8 300.47H496.8M494.8 305.45H496.8" stroke="#1a1a1a" stroke-width="0.7" fill="none"/>
<path d="M456 231.42V246.37M455 231.42H457M455 246.37H457" stroke="#1a1a1a" stroke-width="0.7" fill="none"/>
<path d="M428.7 253.13V267.37M427.7 253.13H429.7M427.7 267.37H429.7" stroke="#1a1a1a" stroke-width="0.7" fill="none"/>
<path d="M499.7 272.71V283.39M498.7 272.71H500.7M498.7 283.39H500.7" stroke="#1a1a1a" stroke-width="0.7" fill="none"/>
<path d="M501.9 288.72V295.84M500.9 288.72H502.9M500.9 295.84H502.9" stroke="#1a1a1a" stroke-width="0.7" fill="none"/>
<path d="M523.9 300.47V305.45M522.9 300.47H524.9M522.9 305.45H524.9" stroke="#1a1a1a" stroke-width="0.7" fill="none"/>
<path d="M432.2 272.71V283.39M431.2 272.71H433.2M431.2 283.39H433.2" stroke="#1a1a1a" stroke-width="0.7" fill="none"/>
<path d="M439.7 288.72V295.84M438.7 288.72H440.7M438.7 295.84H440.7" stroke="#1a1a1a" stroke-width="0.7" fill="none"/>
<path d="M471.4 300.47V305.45M470.4 300.47H472.4M470.4 305.45H472.4" stroke="#1a1a1a" stroke-width="0.7" fill="none"/>
<path d="M542.8 253.13V267.37M541.8 253.13H543.8M541.8 267.37H543.8" stroke="#1a1a1a" stroke-width="0.7" fill="none"/>
<path d="M480.4 272.71V283.39M479.4 272.71H481.4M479.4 283.39H481.4" stroke="#1a1a1a" stroke-width="0.7" fill="none"/>
<path d="M486 288.72V295.84M485 288.72H487M485 295.84H487" stroke="#1a1a1a" stroke-width="0.7" fill="none"/>
<path d="M477.2 300.47V305.45M476.2 300.47H478.2M476.2 305.45H478.2" stroke="#1a1a1a" stroke-width="0.7" fill="none"/>
<circle cx="633" cy="221.1" r="2" fill="#0000ff" stroke="#000" stroke-width="0.7"/>
<circle cx="632" cy="238.89" r="2" fill="#0000ff" stroke="#000" stroke-width="0.7"/>
<circle cx="607.4" cy="260.25" r="2" fill="#0000ff" stroke="#000" stroke-width="0.7"/>
<circle cx="574.2" cy="278.05" r="2" fill="#0000ff" stroke="#000" stroke-width="0.7"/>
<circle cx="561" cy="292.28" r="2" fill="#0000ff" stroke="#000" stroke-width="0.7"/>
<circle cx="555.9" cy="302.96" r="2" fill="#0000ff" stroke="#000" stroke-width="0.7"/>
<circle cx="541.5" cy="310.08" r="2" fill="#0000ff" stroke="#000" stroke-width="0.7"/>
<circle cx="542.5" cy="317.2" r="2" fill="#0000ff" stroke="#000" stroke-width="0.7"/>
<circle cx="541" cy="320.76" r="2" fill="#0000ff" stroke="#000" stroke-width="0.7"/>
<circle cx="534.3" cy="324.32" r="2" fill="#0000ff" stroke="#000" stroke-width="0.7"/>
<circle cx="535.2" cy="327.88" r="2" fill="#0000ff" stroke="#000" stroke-width="0.7"/>
<circle cx="528.9" cy="331.44" r="2" fill="#0000ff" stroke="#000" stroke-width="0.7"/>
<circle cx="530.3" cy="334.99" r="2" fill="#0000ff" stroke="#000" stroke-width="0.7"/>
<circle cx="521.1" cy="338.55" r="2" fill="#0000ff" stroke="#000" stroke-width="0.7"/>
<circle cx="517.4" cy="342.11" r="2" fill="#0000ff" stroke="#000" stroke-width="0.7"/>
<circle cx="523" cy="345.67" r="2" fill="#0000ff" stroke="#000" stroke-width="0.7"/>
<circle cx="517" cy="349.23" r="2" fill="#0000ff" stroke="#000" stroke-width="0.7"/>
<circle cx="516.3" cy="352.79" r="2" fill="#0000ff" stroke="#000" stroke-width="0.7"/>
<circle cx="499.2" cy="356.35" r="2" fill="#0000ff" stroke="#000" stroke-width="0.7"/>
<circle cx="551.7" cy="260.25" r="2" fill="#ffff00" stroke="#000" stroke-width="0.7"/>
<circle cx="525" cy="278.05" r="2" fill="#ffff00" stroke="#000" stroke-width="0.7"/>
<circle cx="474.5" cy="292.28" r="2" fill="#ffff00" stroke="#000" stroke-width="0.7"/>
<circle cx="495.8" cy="302.96" r="2" fill="#ffff00" stroke="#000" stroke-width="0.7"/>
<circle cx="471.9" cy="310.08" r="2" fill="#ffff00" stroke="#000" stroke-width="0.7"/>
<circle cx="466.2" cy="317.2" r="2" fill="#ffff00" stroke="#000" stroke-width="0.7"/>
<circle cx="456.3" cy="320.76" r="2" fill="#ffff00" stroke="#000" stroke-width="0.7"/>
<circle cx="491.6" cy="324.32" r="2" fill="#ffff00" stroke="#000" stroke-width="0.7"/>
<circle cx="474.9" cy="327.88" r="2" fill="#ffff00" stroke="#000" stroke-width="0.7"/>
<circle cx="460.3" cy="331.44" r="2" fill="#ffff00" stroke="#000" stroke-width="0.7"/>
<circle cx="478.8" cy="334.99" r="2" fill="#ffff00" stroke="#000" stroke-width="0.7"/>
<circle cx="484.7" cy="338.55" r="2" fill="#ffff00" stroke="#000" stroke-width="0.7"/>
<circle cx="485.4" cy="342.11" r="2" fill="#ffff00" stroke="#000" stroke-width="0.7"/>
<circle cx="452.4" cy="345.67" r="2" fill="#ffff00" stroke="#000" stroke-width="0.7"/>
<circle cx="460.3" cy="349.23" r="2" fill="#ffff00" stroke="#000" stroke-width="0.7"/>
<circle cx="431.9" cy="352.79" r="2" fill="#ffff00" stroke="#000" stroke-width="0.7"/>
<circle cx="431" cy="356.35" r="2" fill="#ffff00" stroke="#000" stroke-width="0.7"/>
<circle cx="456" cy="238.89" r="2" fill="#ff0000" stroke="#000" stroke-width="0.7"/>
<circle cx="428.7" cy="260.25" r="2" fill="#ff0000" stroke="#000" stroke-width="0.7"/>
<circle cx="499.7" cy="278.05" r="2" fill="#ff0000" stroke="#000" stroke-width="0.7"/>
<circle cx="501.9" cy="292.28" r="2" fill="#ff0000" stroke="#000" stroke-width="0.7"/>
<circle cx="523.9" cy="302.96" r="2" fill="#ff0000" stroke="#000" stroke-width="0.7"/>
<circle cx="520.6" cy="310.08" r="2" fill="#ff0000" stroke="#000" stroke-width="0.7"/>
<circle cx="503.4" cy="317.2" r="2" fill="#ff0000" stroke="#000" stroke-width="0.7"/>
<circle cx="509.9" cy="320.76" r="2" fill="#ff0000" stroke="#000" stroke-width="0.7"/>
<circle cx="507.7" cy="324.32" r="2" fill="#ff0000" stroke="#000" stroke-width="0.7"/>
<circle cx="494.5" cy="327.88" r="2" fill="#ff0000" stroke="#000" stroke-width="0.7"/>
<circle cx="485.9" cy="331.44" r="2" fill="#ff0000" stroke="#000" stroke-width="0.7"/>
<circle cx="480.4" cy="334.99" r="2" fill="#ff0000" stroke="#000" stroke-width="0.7"/>
<circle cx="480.6" cy="338.55" r="2" fill="#ff0000" stroke="#000" stroke-width="0.7"/>
<circle cx="457.5" cy="342.11" r="2" fill="#ff0000" stroke="#000" stroke-width="0.7"/>
<circle cx="447.1" cy="345.67" r="2" fill="#ff0000" stroke="#000" stroke-width="0.7"/>
<circle cx="439.2" cy="349.23" r="2" fill="#ff0000" stroke="#000" stroke-width="0.7"/>
<circle cx="442.4" cy="352.79" r="2" fill="#ff0000" stroke="#000" stroke-width="0.7"/>
<circle cx="440.3" cy="356.35" r="2" fill="#ff0000" stroke="#000" stroke-width="0.7"/>
<circle cx="432.2" cy="278.05" r="2" fill="#00ffff" stroke="#000" stroke-width="0.7"/>
<circle cx="439.7" cy="292.28" r="2" fill="#00ffff" stroke="#000" stroke-width="0.7"/>
<circle cx="471.4" cy="302.96" r="2" fill="#00ffff" stroke="#000" stroke-width="0.7"/>
<circle cx="460.7" cy="310.08" r="2" fill="#00ffff" stroke="#000" stroke-width="0.7"/>
<circle cx="451.6" cy="317.2" r="2" fill="#00ffff" stroke="#000" stroke-width="0.7"/>
<circle cx="449.4" cy="320.76" r="2" fill="#00ffff" stroke="#000" stroke-width="0.7"/>
<circle cx="432.1" cy="324.32" r="2" fill="#00ffff" stroke="#000" stroke-width="0.7"/>
<circle cx="448.7" cy="327.88" r="2" fill="#00ffff" stroke="#000" stroke-width="0.7"/>
<circle cx="444.5" cy="331.44" r="2" fill="#00ffff" stroke="#000" stroke-width="0.7"/>
<circle cx="455.3" cy="334.99" r="2" fill="#00ffff" stroke="#000" stroke-width="0.7"/>
<circle cx="444.9" cy="338.55" r="2" fill="#00ffff" stroke="#000" stroke-width="0.7"/>
<circle cx="424.2" cy="342.11" r="2" fill="#00ffff" stroke="#000" stroke-width="0.7"/>
<circle cx="411.5" cy="345.67" r="2" fill="#00ffff" stroke="#000" stroke-width="0.7"/>
<circle cx="420.8" cy="349.23" r="2" fill="#00ffff" stroke="#000" stroke-width="0.7"/>
<circle cx="424.8" cy="352.79" r="2" fill="#00ffff" stroke="#000" stroke-width="0.7"/>
<circle cx="413.3" cy="356.35" r="2" fill="#00ffff" stroke="#000" stroke-width="0.7"/>
<circle cx="542.8" cy="260.25" r="2" fill="#00ff00" stroke="#000" stroke-width="0.7"/>
<circle cx="480.4" cy="278.05" r="2" fill="#00ff00" stroke="#000" stroke-width="0.7"/>
<circle cx="486" cy="292.28" r="2" fill="#00ff00" stroke="#000" stroke-width="0.7"/>
<circle cx="477.2" cy="302.96" r="2" fill="#00ff00" stroke="#000" stroke-width="0.7"/>
<circle cx="511.1" cy="310.08" r="2" fill="#00ff00" stroke="#000" stroke-width="0.7"/>
<circle cx="505.5" cy="317.2" r="2" fill="#00ff00" stroke="#000" stroke-width="0.7"/>
<circle cx="499.1" cy="320.76" r="2" fill="#00ff00" stroke="#000" stroke-width="0.7"/>
<circle cx="510.9" cy="324.32" r="2" fill="#00ff00" stroke="#000" stroke-width="0.7"/>
<circle cx="484.3" cy="327.88" r="2" fill="#00ff00" stroke="#000" stroke-width="0.7"/>
<circle cx="509.1" cy="331.44" r="2" fill="#00ff00" stroke="#000" stroke-width="0.7"/>
<circle cx="500.2" cy="334.99" r="2" fill="#00ff00" stroke="#000" stroke-width="0.7"/>
<circle cx="500.2" cy="338.55" r="2" fill="#00ff00" stroke="#000" stroke-width="0.7"/>
<circle cx="488.7" cy="342.11" r="2" fill="#00ff00" stroke="#000" stroke-width="0.7"/>
<circle cx="508" cy="345.67" r="2" fill="#00ff00" stroke="#000" stroke-width="0.7"/>
<circle cx="500.7" cy="349.23" r="2" fill="#00ff00" stroke="#000" stroke-width="0.7"/>
<circle cx="487.3" cy="352.79" r="2" fill="#00ff00" stroke="#000" stroke-width="0.7"/>
<circle cx="485" cy="356.35" r="2" fill="#00ff00" stroke="#000" stroke-width="0.7"/>
<text x="382.63" y="371.7" text-anchor="middle" font-size="9.6" fill="#111111">65</text>
<text x="423.29" y="371.7" text-anchor="middle" font-size="9.6" fill="#111111">70</text>
<text x="463.95" y="371.7" text-anchor="middle" font-size="9.6" fill="#111111">75</text>
<text x="504.61" y="371.7" text-anchor="middle" font-size="9.6" fill="#111111">80</text>
<text x="545.27" y="371.7" text-anchor="middle" font-size="9.6" fill="#111111">85</text>
<text x="585.93" y="371.7" text-anchor="middle" font-size="9.6" fill="#111111">90</text>
<text x="626.59" y="371.7" text-anchor="middle" font-size="9.6" fill="#111111">95</text>
<text x="667.25" y="371.7" text-anchor="middle" font-size="9.6" fill="#111111">100</text>
<text x="372.3" y="360.25" text-anchor="end" font-size="9.6" fill="#111111">5</text>
<text x="372.3" y="324.66" text-anchor="end" font-size="9.6" fill="#111111">6</text>
<text x="372.3" y="289.06" text-anchor="end" font-size="9.6" fill="#111111">7</text>
<text x="372.3" y="253.47" text-anchor="end" font-size="9.6" fill="#111111">8</text>
<text x="372.3" y="217.88" text-anchor="end" font-size="9.6" fill="#111111">9</text>
<path d="M382.63 359.9v-3.4M382.63 207.4v3.4M423.29 359.9v-3.4M423.29 207.4v3.4M463.95 359.9v-3.4M463.95 207.4v3.4M504.61 359.9v-3.4M504.61 207.4v3.4M545.27 359.9v-3.4M545.27 207.4v3.4M585.93 359.9v-3.4M585.93 207.4v3.4M626.59 359.9v-3.4M626.59 207.4v3.4M667.25 359.9v-3.4M667.25 207.4v3.4M374.5 356.35h3.4M683.5 356.35h-3.4M374.5 320.76h3.4M683.5 320.76h-3.4M374.5 285.17h3.4M683.5 285.17h-3.4M374.5 249.57h3.4M683.5 249.57h-3.4M374.5 213.98h3.4M683.5 213.98h-3.4" stroke="#262626" stroke-width="0.6" fill="none"/>
<rect x="374.5" y="207.4" width="309" height="152.5" fill="none" stroke="#262626" stroke-width="0.6"/>
<text x="529.4" y="383.5" text-anchor="middle" font-size="9.7" fill="#111111">DC (%)</text>
<text transform="translate(361 283.35) rotate(-90)" text-anchor="middle" font-size="9.7" fill="#111111">Magnitude (Mw)</text>
<rect x="604.5" y="301" width="70.5" height="51.3" fill="#fff" stroke="#262626" stroke-width="0.55"/>
<circle cx="610.5" cy="306.4" r="2.9" fill="#0000ff" stroke="#000" stroke-width="0.5"/>
<text x="616.8" y="309.4" font-size="8.6" fill="#111111">Thrust</text>
<circle cx="610.5" cy="316.47" r="2.9" fill="#ffff00" stroke="#000" stroke-width="0.5"/>
<text x="616.8" y="319.47" font-size="8.6" fill="#111111">Transpressive</text>
<circle cx="610.5" cy="326.54" r="2.9" fill="#ff0000" stroke="#000" stroke-width="0.5"/>
<text x="616.8" y="329.54" font-size="8.6" fill="#111111">Strike-slip</text>
<circle cx="610.5" cy="336.61" r="2.9" fill="#00ffff" stroke="#000" stroke-width="0.5"/>
<text x="616.8" y="339.61" font-size="8.6" fill="#111111">Transtensional</text>
<circle cx="610.5" cy="346.68" r="2.9" fill="#00ff00" stroke="#000" stroke-width="0.5"/>
<text x="616.8" y="349.68" font-size="8.6" fill="#111111">Normal</text>
<text x="-0.8" y="9.8" font-size="11" font-weight="bold" fill="#000">a</text>
<text x="351" y="9.8" font-size="11" font-weight="bold" fill="#000">b</text>
<text x="-0.2" y="204.8" font-size="11" font-weight="bold" fill="#000">c</text>
<text x="351" y="204.8" font-size="11" font-weight="bold" fill="#000">d</text>
</svg></div></body></html>
